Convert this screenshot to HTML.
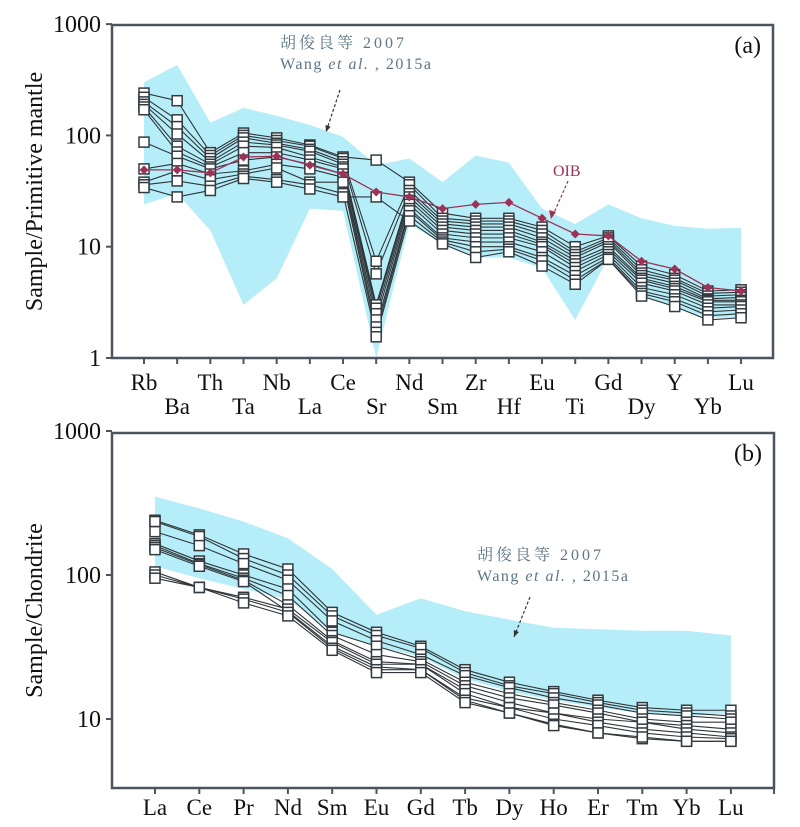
<!DOCTYPE html>
<html><head><meta charset="utf-8"><style>
body{margin:0;background:#fff;}
svg{display:block;font-family:"Liberation Serif","Noto Serif CJK SC",serif;}
</style></head><body>
<svg id="chart" width="800" height="827" viewBox="0 0 800 827"></svg>
<script>
const elemsA=["Rb","Ba","Th","Ta","Nb","La","Ce","Sr","Nd","Sm","Zr","Hf","Eu","Ti","Gd","Dy","Y","Yb","Lu"];
const samplesA=[
[240,205,70,105,95,82,64,60,38,20,18,18,15,10,12.5,6.7,5.6,4,4.1],
[220,138,66,100,90,80,62,7.4,36,18,17,17,14,9,12,6.2,5.2,3.8,3.9],
[200,120,62,95,85,75,58,5.7,32,17,16,16,13,8.5,11.5,5.8,5,3.6,3.7],
[190,103,58,87,82,72,55,3.0,30,16,15,15,12,8,11,5.5,4.7,3.4,3.5],
[180,80,55,80,78,64,52,2.8,28,15,14,14,11,7.5,10,5.2,4.4,3.3,3.3],
[170,71,52,70,70,60,50,2.5,26,14,13,13,10.5,7,9.5,5,4.2,3.2,3.2],
[87,65,50,60,64,55,45,2.2,24,13,12,12,10,6.5,9,4.7,4,3.0,3.0],
[50,56,45,48,55,50,42,1.9,22,12,11,11,9,6,8.5,4.3,3.7,2.8,2.9],
[38,48,40,45,51,38,38,1.7,21,11.5,10,10,8,5.5,8,4,3.4,2.6,2.7],
[36,39,35,43,40,36,30,1.55,19,11,9,9.5,7.5,5,7.7,3.8,3.2,2.4,2.5],
[34,28,32,41,38,33,28,28,17,10.6,8,9,6.7,4.6,7.7,3.6,2.9,2.2,2.3]];
const oibA=[49,49,46,64,65,54,45,31,28,22,24,25,18,13,12.5,7.4,6.3,4.3,4.0];
const envUpA=[300,430,130,177,150,124,97,54,62,38,66,57,22,16,24,18,15.4,14.5,14.8];
const envLowA=[24,30,14,3.0,5.2,22,21,1,16,10.6,8,8,6.4,2.2,8,3.7,2.8,2.3,2.3];
const ticksA=["1","10","100","1000"];
const tickValsA=[1,10,100,1000];

const elemsB=["La","Ce","Pr","Nd","Sm","Eu","Gd","Tb","Dy","Ho","Er","Tm","Yb","Lu"];
const samplesB=[
[240,190,140,110,55,40,32,22,18,15.5,13.5,12,11.5,11.5],
[235,185,130,100,52,38,31,21,17,15,13,11.5,11,10.5],
[200,160,120,92,48,35,28,20,16.5,14,12.5,11,10.5,10],
[165,125,100,80,40,32,26,18,15,13,11.5,10,9.5,9.5],
[160,120,95,72,38,28,25,17,14,12.5,11,9.5,9,8.5],
[155,118,92,62,35,25,24,16,13,11,10,9.5,8.5,8],
[150,115,90,56,32,23,22,14,12,11,9.5,8.5,8,7.5],
[105,82,70,58,34,24,24,15,12,10,9,8,7.5,7.3],
[100,82,68,55,31,22,22,13.5,11,9.2,8,7.3,7,7],
[95,82,64,52,30,21,21,13,11,9,8,7.5,7,7]];
const envUpB=[350,290,235,180,110,53,69,56,49,43,42,41,41,38];
const envLowB=[115,95,80,68,40,32,27,19,15.5,13.5,12,11,10.5,11];
const ticksB=["10","100","1000"];
const tickValsB=[10,100,1000];

const NS="http://www.w3.org/2000/svg";
const svg=document.getElementById('chart');
function mk(tag,attrs,parent){const e=document.createElementNS(NS,tag);for(const k in attrs)e.setAttribute(k,attrs[k]);(parent||svg).appendChild(e);return e;}

const xA=i=>144+i*33.17;
const yA=v=>358-Math.log10(v)*111.3;
const xB=i=>155+i*44.3;
const yB=v=>719-(Math.log10(v)-1)*144;

function panel(id,x,y,elems,samples,envUp,envLow,box,tickVals,ticks,title,tag){
  const g=mk('g',{});
  
  
  let pts=envUp.map((v,i)=>x(i)+','+y(v));
  for(let i=envLow.length-1;i>=0;i--)pts.push(x(i)+','+y(envLow[i]));
  const env=mk('polygon',{points:pts.join(' '),fill:'#b5eef8',stroke:'none'},g);
  
  
  samples.forEach((s,k)=>{
    const sg=mk('g',{},g);
    
    
    mk('polyline',{points:s.map((v,i)=>x(i)+','+y(v)).join(' '),fill:'none',stroke:'#2f3438','stroke-width':1.1},sg);
  });
  samples.forEach((s,k)=>{s.forEach((v,i)=>{
    const r=mk('rect',{x:x(i)-5,y:y(v)-5,width:10,height:10,fill:'#fff',stroke:'#333a40','stroke-width':1.5},g);
    
    
  });});
  const fr=mk('rect',{x:box[0],y:box[1],width:box[2]-box[0],height:box[3]-box[1],fill:'none',stroke:'#4a5560','stroke-width':2.5},g);
  
  
  tickVals.forEach((tv,i)=>{
    mk('line',{x1:box[0]-6,x2:box[0],y1:y(tv),y2:y(tv),stroke:'#4a5560','stroke-width':2},g);
    const t=mk('text',{x:101,y:y(tv)+8,'text-anchor':'end','font-size':24,fill:'#111'},g);
    t.textContent=ticks[i];
    
    
  });
  elems.forEach((e,i)=>{
    mk('line',{x1:x(i),x2:x(i),y1:box[3],y2:box[3]+6,stroke:'#4a5560','stroke-width':2},g);
  });
  const yt=mk('text',{transform:`translate(42,${(box[1]+box[3])/2}) rotate(-90)`,'text-anchor':'middle','font-size':24,fill:'#111'},g);
  yt.textContent=title;
  
  
  const pl=mk('text',{x:box[2]-12,y:box[1]+28,'text-anchor':'end','font-size':24,fill:'#111'},g);
  pl.textContent=tag;
  
  
  return g;
}
const gA=panel('panel-a-spider',xA,yA,elemsA,samplesA,envUpA,envLowA,[112,25,773,358],tickValsA,ticksA,'Sample/Primitive mantle','(a)');
elemsA.forEach((e,i)=>{
  const t=mk('text',{x:xA(i),y:i%2===0?390:414,'text-anchor':'middle','font-size':23,fill:'#111'},gA);
  t.textContent=e;
  
  
});
const og=mk('g',{},gA);


mk('polyline',{points:oibA.map((v,i)=>xA(i)+','+yA(v)).join(' '),fill:'none',stroke:'#9b3358','stroke-width':1.3},og);
oibA.forEach((v,i)=>{
  const d=mk('path',{d:`M${xA(i)},${yA(v)-4.5}L${xA(i)+4.5},${yA(v)}L${xA(i)},${yA(v)+4.5}L${xA(i)-4.5},${yA(v)}Z`,fill:'#9b3358'},og);
  
  
});
const gB=panel('panel-b-ree',xB,yB,elemsB,samplesB,envUpB,envLowB,[112,433,774,788],tickValsB,ticksB,'Sample/Chondrite','(b)');
mk('line',{x1:774,x2:774,y1:788,y2:794,stroke:'#4a5560','stroke-width':2},gB);
elemsB.forEach((e,i)=>{
  const t=mk('text',{x:xB(i),y:815,'text-anchor':'middle','font-size':23,fill:'#111'},gB);
  t.textContent=e;
  
  
});

function note(x,y,ax1,ay1,ax2,ay2,name){
  const t1=mk('text',{x:x,y:y,'font-size':16,fill:'#5d7585','letter-spacing':'3'});
  t1.textContent='胡俊良等 2007';
  
  
  const t2=mk('text',{x:x,y:y+21,'font-size':16,fill:'#5d7585','letter-spacing':'1.5'});
  t2.innerHTML='Wang <tspan font-style="italic">et al.</tspan> , 2015a';
  
  
  const l=mk('line',{x1:ax1,y1:ay1,x2:ax2,y2:ay2,stroke:'#333','stroke-width':1.2,'stroke-dasharray':'3,2'});
  
  
  const a=Math.atan2(ay2-ay1,ax2-ax1);
  mk('path',{d:`M${ax2},${ay2}L${ax2-7*Math.cos(a-0.4)},${ay2-7*Math.sin(a-0.4)}L${ax2-7*Math.cos(a+0.4)},${ay2-7*Math.sin(a+0.4)}Z`,fill:'#333'});
}
note(280,48,340,90,326,132,'annotation-a');
note(477,560,530,597,514,637,'annotation-b');
const o=mk('text',{x:553,y:176,'font-size':16,fill:'#9b3358'});
o.textContent='OIB';


const l2=mk('line',{x1:568,y1:181,x2:553,y2:215,stroke:'#9b3358','stroke-width':1.2,'stroke-dasharray':'3,2'});


mk('path',{d:'M551,219L549,210L556,212Z',fill:'#9b3358'});
</script>
</body></html>
